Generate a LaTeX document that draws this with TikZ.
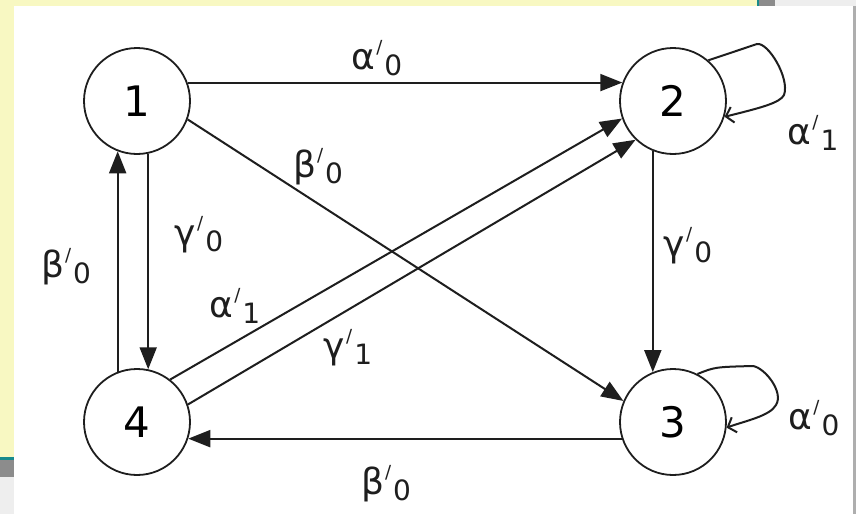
\documentclass[tikz,border=0pt]{standalone}
\usepackage{fontspec}
\setmainfont{DejaVu Sans}
\usetikzlibrary{arrows.meta}
\definecolor{bgyellow}{RGB}{248,248,194}
\definecolor{bgteal}{RGB}{24,138,140}
\definecolor{bggray}{RGB}{140,140,140}
\definecolor{bglight}{RGB}{238,238,238}
\definecolor{ink}{RGB}{30,30,30}
\newcommand{\lb}[2]{{\fontsize{36}{36}\selectfont #1}\kern1pt\raisebox{16pt}{\fontsize{18}{18}\selectfont /}\kern2pt\raisebox{-6pt}{\fontsize{28}{28}\selectfont #2}}
\begin{document}
\begin{tikzpicture}[x=1pt,y=-1pt,
  state/.style={circle,draw=ink,line width=1.8pt,minimum size=106pt,inner sep=0pt,fill=white,
    font=\fontsize{42}{42}\selectfont},
  edge/.style={draw=ink,line width=2pt,-{Triangle[length=22pt,width=17pt]}},
  loopedge/.style={draw=ink,line width=2pt,-{Straight Barb[length=7pt,width=16pt]}},
  lbl/.style={inner sep=0pt,text=ink}]
\useasboundingbox (0,0) rectangle (856,514);
% background
\fill[bgyellow] (0,0) rectangle (856,514);
\fill[white] (14,6) rectangle (853,514);
\fill[bggray!70] (853,6) rectangle (856,514);
\fill[bgteal] (757,0) rectangle (759,6);
\fill[bggray] (759,0) rectangle (775,6);
\fill[bglight] (775,0) rectangle (856,6);
\fill[bgteal] (0,457) rectangle (14,460);
\fill[bggray] (0,460) rectangle (14,477);
\fill[bglight] (0,477) rectangle (14,514);
% states
\node[state] (n1) at (137,101) {1};
\node[state] (n2) at (673,101) {2};
\node[state] (n3) at (673,422) {3};
\node[state] (n4) at (137,422) {4};
% transitions
\draw[edge] (n1.20) -- (n2.160);
\draw[edge] (n1.-20) -- (n3.157);
\draw[edge] (n1.-78) -- (n4.78);
\draw[edge] (n4.111) -- (n1.-111);
\draw[edge] (n2.-112) -- (n3.112);
\draw[edge] (n3.-162) -- (n4.-18);
\draw[edge] (n4.52) -- (n2.-161);
\draw[edge] (n4.19) -- (n2.-134);
% self loops
\coordinate (l2a) at (757,44);
\coordinate (l2b) at (784,95);
\draw[loopedge] (n2.49) -- (l2a) .. controls (768,42) and (790,78) .. (l2b)
  .. controls (780,103) and (760,108) .. (n2.-17);
\coordinate (l3a) at (753,366);
\coordinate (l3b) at (776,405);
\draw[loopedge] (n3.63) .. controls (715,367) .. (l3a)
  .. controls (765,368) and (784,392) .. (l3b)
  .. controls (770,416) and (745,421) .. (n3.-6);
% labels
\node[lbl] (la12) at (377,58) {\lb{α}{0}};
\node[lbl] (la22) at (813,133) {\lb{α}{1}};
\node[lbl] (la33) at (814,418) {\lb{α}{0}};
\node[lbl] (lb13) at (318,167) {\lb{β}{0}};
\node[lbl] (lg14) at (199,235) {\lb{γ}{0}};
\node[lbl] (lb41) at (66,267) {\lb{β}{0}};
\node[lbl] (lg23) at (688,246) {\lb{γ}{0}};
\node[lbl] (la42) at (235,306) {\lb{α}{1}};
\node[lbl] (lg42) at (348,348) {\lb{γ}{1}};
\node[lbl] (lb34) at (386,484) {\lb{β}{0}};
\end{tikzpicture}
\end{document}
